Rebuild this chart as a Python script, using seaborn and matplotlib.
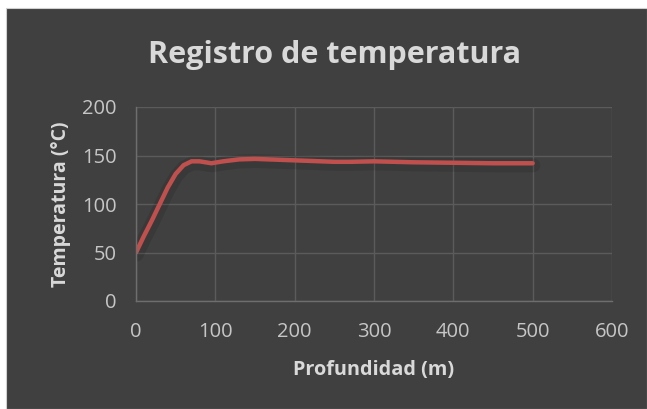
import matplotlib
matplotlib.use("Agg")
import matplotlib.pyplot as plt
import matplotlib.patheffects as pe
from matplotlib.patches import Rectangle
import seaborn as sns
import pandas as pd

# Values
profundidad = [0, 10, 20, 30, 40, 50, 60, 70, 80, 95, 110, 130, 150, 200, 250, 270, 300, 350, 400, 450, 500]
temperatura = [50, 67, 83, 100, 117, 131, 140, 144, 144, 142, 144, 146, 146.5, 145, 143.5, 143.5, 144, 143, 142.5, 142, 142]
x_ticks = [0, 100, 200, 300, 400, 500, 600]
y_ticks = [0, 50, 100, 150, 200]

bg = "#404040"
txt = "#d9d9d9"
tick_col = "#c6c6c6"
grid_col = "#5b5b5b"
line_col = "#c0504d"

sns.set_theme(style="darkgrid")
plt.rcParams['font.family'] = ['Open Sans', 'DejaVu Sans']

df = pd.DataFrame({"Profundidad": profundidad, "Temperatura": temperatura})

fig = plt.figure(figsize=(6.47, 4.09), dpi=100, facecolor="white")
fig.patches.append(Rectangle((6 / 647, 0), 1 - 6 / 647, 1 - 8 / 409, transform=fig.transFigure,
                             facecolor=bg, edgecolor="#d0d0d0", linewidth=0.8, zorder=-5))
ax = fig.add_axes([136 / 647, 108 / 409, (612 - 136) / 647, (301 - 107) / 409])
ax.set_facecolor(bg)

sns.lineplot(data=df, x="Profundidad", y="Temperatura", ax=ax, color=line_col, linewidth=3.2,
             path_effects=[pe.SimpleLineShadow(offset=(0.5, -1.5), shadow_color="black", alpha=0.1, linewidth=10),
                           pe.Normal()])

ax.set_xlim(0, 600)
ax.set_ylim(0, 200)
ax.set_xticks(x_ticks)
ax.set_yticks(y_ticks)
ax.grid(True, color=grid_col, linewidth=1.0)
for s in ["top", "right"]:
    ax.spines[s].set_visible(False)
for s in ["left", "bottom"]:
    ax.spines[s].set_visible(True)
    ax.spines[s].set_color("#6e6e6e")
    ax.spines[s].set_linewidth(1.0)
ax.tick_params(colors=tick_col, labelsize=14.5, length=0)
ax.tick_params(axis="x", pad=15)
ax.tick_params(axis="y", pad=14)

ax.set_xlabel("Profundidad (m)", color=txt, fontsize=14.3, fontweight="bold", labelpad=13)
ax.set_ylabel("Temperatura (°C)", color=txt, fontsize=14, fontweight="bold", labelpad=8)
fig.text(335 / 647, 1 - 55 / 409, "Registro de temperatura", color=txt, fontsize=22,
         fontweight="bold", ha="center", va="center")

fig.savefig("out.png", dpi=100, facecolor=fig.get_facecolor())
plt.close(fig)
